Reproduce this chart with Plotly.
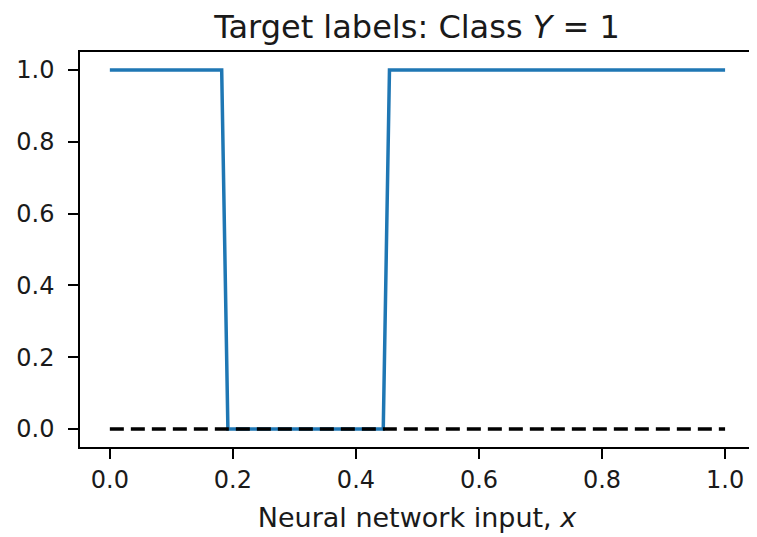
import plotly.graph_objects as go

# Step-function target labels (breakpoints)
x_target = [0.0, 0.1818, 0.1919, 0.4444, 0.4545, 1.0]
y_target = [1.0, 1.0, 0.0, 0.0, 1.0, 1.0]
# Dashed baseline
x_base = [0.0, 1.0]
y_base = [0.0, 0.0]

x_ticks = [0.0, 0.2, 0.4, 0.6, 0.8, 1.0]
y_ticks = [0.0, 0.2, 0.4, 0.6, 0.8, 1.0]

FONT = "DejaVu Sans"
TXT = "#1a1a1a"

# page body has an 8px margin: the figure is sized to fit the window from there
W, H = 749, 529

fig = go.Figure()
fig.add_trace(go.Scatter(x=x_target, y=y_target, mode="lines",
                         line=dict(color="#1f77b4", width=3.5), showlegend=False))
fig.add_trace(go.Scatter(x=x_base, y=y_base, mode="lines",
                         line=dict(color="black", width=3.5, dash="14px,7px"), showlegend=False))

axis_common = dict(showline=True, linecolor="black", linewidth=1.5, mirror=True,
                   ticks="outside", ticklen=10, tickwidth=1.5, tickcolor="black",
                   showgrid=False, zeroline=False,
                   tickfont=dict(family=FONT, size=24, color=TXT))

fig.update_xaxes(range=[-0.0485, 1.047], tickvals=x_ticks,
                 ticktext=[f"{v:.1f}" for v in x_ticks],
                 title=dict(text="Neural network input, <i>x</i>",
                            font=dict(family=FONT, size=27, color=TXT),
                            standoff=16),
                 **axis_common)
fig.update_yaxes(range=[-0.05, 1.05], tickvals=y_ticks,
                 ticktext=[f"{v:.1f}" for v in y_ticks],
                 ticklabelstandoff=9,
                 **axis_common)

fig.update_layout(
    width=W, height=H,
    margin=dict(l=72, r=1, t=44, b=90),
    plot_bgcolor="white", paper_bgcolor="white",
    title=dict(text="Target labels: Class <i>Y</i> = 1", xref="paper", x=0.5,
               xanchor="center", y=1 - 19/H, yanchor="middle",
               font=dict(family=FONT, size=32, color=TXT)),
)

fig.write_html("out.html")
